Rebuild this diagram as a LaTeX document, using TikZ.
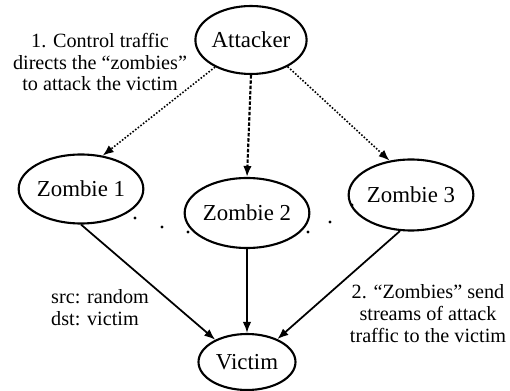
\documentclass[tikz,border=0pt]{standalone}
\usepackage{fontspec}
\setmainfont{Liberation Serif}
\usetikzlibrary{shapes.geometric,arrows.meta}

\begin{document}
\begin{tikzpicture}[
  x=0.02cm, y=-0.02cm,
  >={Latex[length=2.2mm,width=1.7mm]},
  host/.style={draw, ellipse, line width=1.2pt, inner sep=0pt,
               font=\fontsize{13}{15.6}\selectfont},
  note/.style={align=center, font=\fontsize{11.5}{12.5}\selectfont},
  ctrl/.style={->, densely dotted, line width=0.9pt},
  flood/.style={->, line width=1pt},
]
\useasboundingbox (0,0) rectangle (510,391);
% hosts
\node[host, minimum width=1.96cm, minimum height=1.36cm] (att)  at (251,40)  {Attacker};
\node[host, minimum width=1.96cm, minimum height=1.38cm] (zom1) at (81,189)  {Zombie 1};
\node[host, minimum width=1.92cm, minimum height=1.40cm] (zom2) at (247,213) {Zombie 2};
\node[host, minimum width=2.02cm, minimum height=1.42cm] (zom3) at (411,195) {Zombie 3};
\node[host, minimum width=1.94cm, minimum height=1.12cm] (vic)  at (247,362) {Victim};

% labels
\node[note] (ctrlnote)  at (100,62)  {1. Control traffic\\directs the ``zombies''\\to attack the victim};
\node[note, align=left, anchor=west] (pktnote) at (45,308) {src: random\\dst: victim};
\node[note] (floodnote) at (428,314) {2. ``Zombies'' send\\streams of attack\\traffic to the victim};

% control traffic
\draw[ctrl] (att.217) -- (zom1.57);
\draw[->, line width=1.2pt, dash pattern=on 2pt off 1pt] (att.south) -- (zom2.north);
\draw[ctrl] (att.324) -- (zom3.122);

% attack traffic
\draw[flood] (zom1.south) -- (vic.145);
\draw[flood] (zom2.south) -- (vic.north);
\draw[flood] (zom3.253) -- (vic.37);

% more zombies
\foreach \p in {(135,218),(162,227),(188,232),(308,232),(330,222),(352,205)}
  \fill \p circle (1.6);
\end{tikzpicture}
\end{document}
